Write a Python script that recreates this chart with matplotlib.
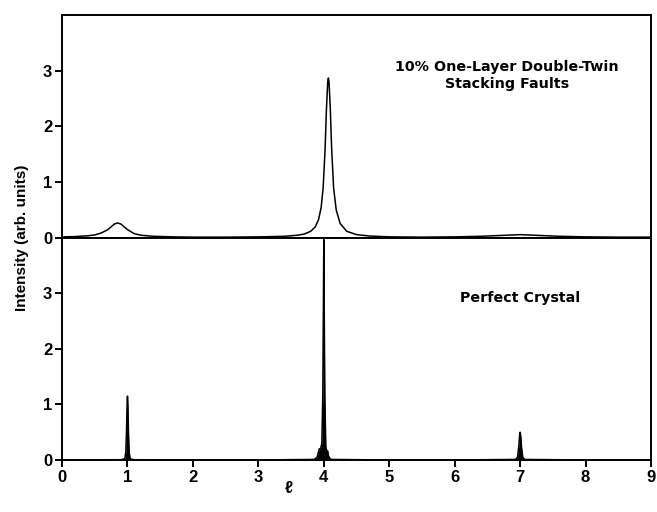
import matplotlib
matplotlib.use('Agg')
from matplotlib import pyplot as plt

# 数据：曲线点 (l, 强度)
fault_l = [0.0, 0.2, 0.4, 0.5, 0.6, 0.7, 0.75, 0.8, 0.85, 0.9, 0.95, 1.0, 1.1, 1.2,
           1.4, 1.7, 2.0, 2.5, 3.0, 3.4, 3.6, 3.7, 3.8, 3.87, 3.92, 3.96, 3.99,
           4.02, 4.04, 4.06, 4.07, 4.08, 4.10, 4.12, 4.15, 4.19, 4.25, 4.35, 4.5,
           4.7, 5.0, 5.5, 6.0, 6.4, 6.7, 6.9, 7.0, 7.1, 7.3, 7.6, 8.0, 8.5, 9.0]
fault_int = [0.02, 0.025, 0.04, 0.055, 0.09, 0.15, 0.2, 0.25, 0.27, 0.25, 0.2, 0.15,
             0.08, 0.05, 0.03, 0.02, 0.015, 0.015, 0.02, 0.03, 0.05, 0.07, 0.12, 0.2,
             0.33, 0.55, 0.9, 1.6, 2.3, 2.8, 2.87, 2.8, 2.3, 1.6, 0.9, 0.5, 0.26,
             0.12, 0.06, 0.035, 0.02, 0.015, 0.02, 0.03, 0.045, 0.055, 0.06, 0.055,
             0.045, 0.03, 0.02, 0.015, 0.015]

perfect_l = [0.0, 0.9, 0.94, 0.96, 0.975, 0.985, 0.993, 1.0, 1.007, 1.015, 1.025,
             1.04, 1.06, 1.1, 2.0, 3.0, 3.85, 3.88, 3.9, 3.92, 3.93, 3.95, 3.97,
             3.985, 3.995, 4.0, 4.005, 4.015, 4.03, 4.04, 4.06, 4.07, 4.09, 4.12,
             5.0, 6.0, 6.93, 6.96, 6.98, 6.99, 7.0, 7.01, 7.02, 7.04, 7.07, 8.0, 9.0]
perfect_int = [0.0, 0.005, 0.015, 0.03, 0.15, 0.5, 0.95, 1.15, 0.95, 0.5, 0.15,
               0.03, 0.015, 0.005, 0.0, 0.0, 0.01, 0.03, 0.06, 0.15, 0.2, 0.2, 0.3,
               1.2, 3.0, 3.97, 3.0, 1.2, 0.25, 0.18, 0.16, 0.08, 0.03, 0.01,
               0.0, 0.0, 0.01, 0.05, 0.25, 0.42, 0.5, 0.42, 0.25, 0.05, 0.01, 0.0, 0.0]

x_ticks = [0, 1, 2, 3, 4, 5, 6, 7, 8, 9]
y_ticks = [0, 1, 2, 3]

plt.rcParams['font.family'] = ['Liberation Sans', 'DejaVu Sans']
plt.rcParams['font.weight'] = 'bold'

fig = plt.figure(figsize=(6.57, 5.12), dpi=100)
ax_top = fig.add_axes([0.0944, 0.5352, 0.8965, 0.4355])
ax_bot = fig.add_axes([0.0944, 0.1016, 0.8965, 0.4336])

ax_top.plot(fault_l, fault_int, color='black', lw=1.1)
ax_bot.plot(perfect_l, perfect_int, color='black', lw=1.1)
ax_bot.fill_between(perfect_l, perfect_int, 0, color='black', lw=0)

for ax in (ax_top, ax_bot):
    ax.set_xlim(0, 9)
    ax.set_ylim(0, 4)
    ax.set_yticks(y_ticks)
    ax.tick_params(axis='both', direction='out', length=5, width=1.4,
                   labelsize=12, pad=2)
    for s in ax.spines.values():
        s.set_linewidth(1.4)

ax_top.set_xticks([])
ax_bot.set_xticks(x_ticks)

ax_top.text(6.8, 2.91, "10% One-Layer Double-Twin\nStacking Faults", ha='center',
            va='center', fontsize=10.3, fontweight='bold', linespacing=1.25,
            family=['DejaVu Sans'])
ax_bot.text(7.0, 2.92, "Perfect Crystal", ha='center', va='center',
            fontsize=10.3, fontweight='bold', family=['DejaVu Sans'])

fig.text(0.034, 0.535, "Intensity (arb. units)", rotation=90, ha='center',
         va='center', fontsize=11, fontweight='bold')
fig.text(0.44, 0.045, "ℓ", ha='center', va='center', fontsize=12)

plt.savefig('out.png', dpi=100)
